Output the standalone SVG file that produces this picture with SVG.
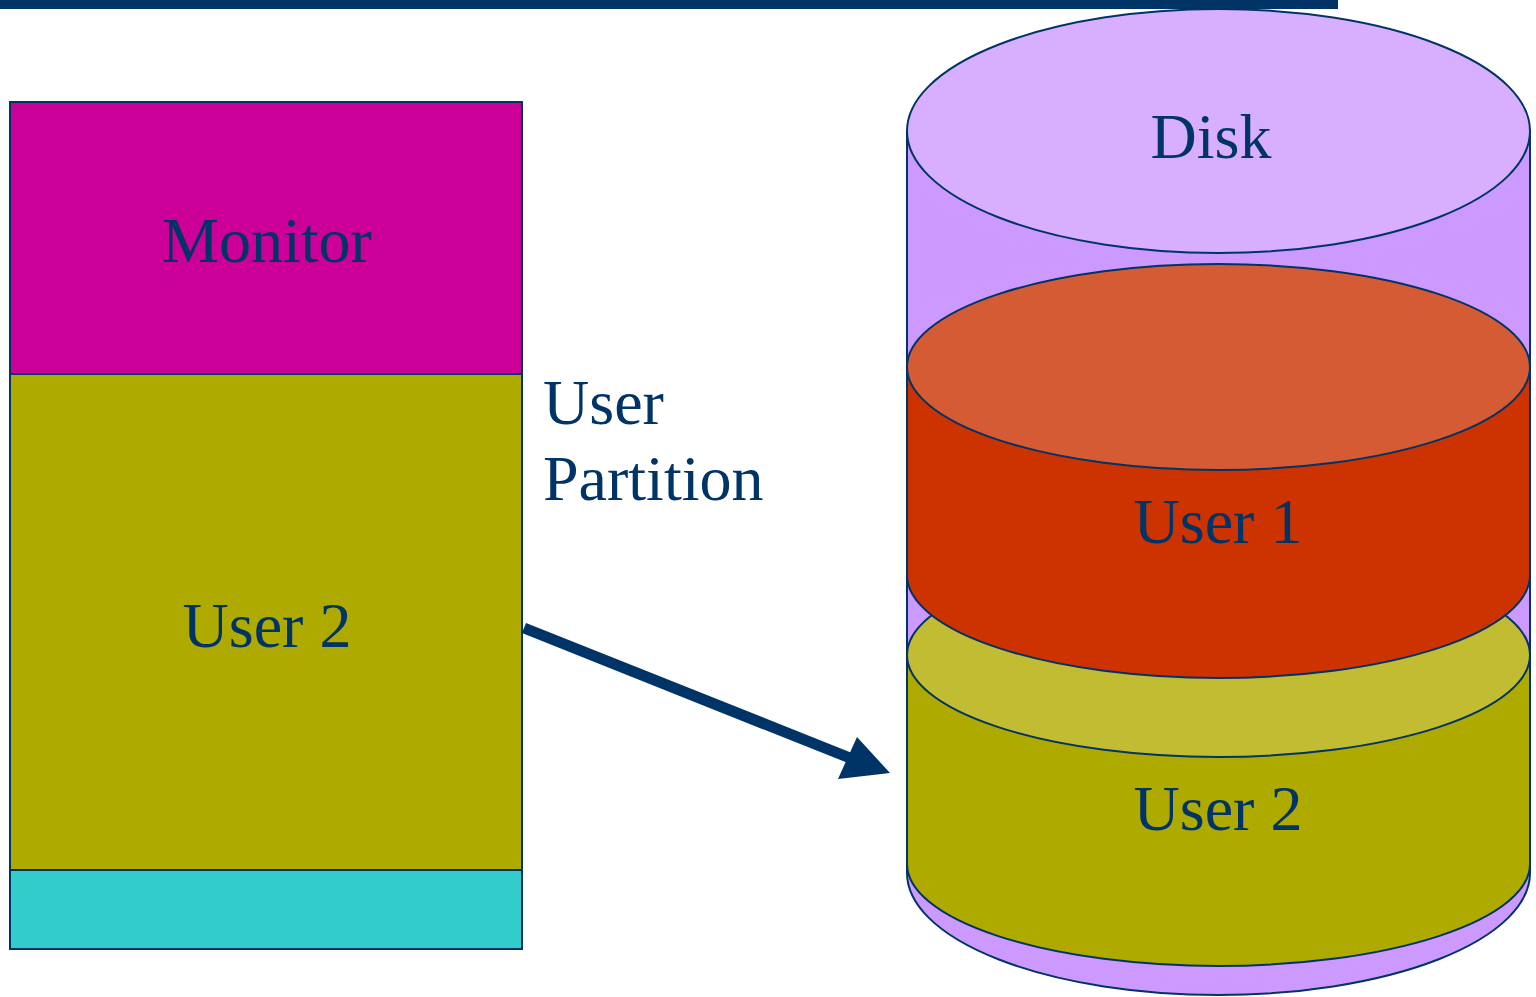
<svg xmlns="http://www.w3.org/2000/svg" width="1536" height="997" viewBox="0 0 1536 997">
<style>
.s{stroke:#003366;stroke-width:2}
.t{font-family:"Liberation Serif","Times New Roman",serif;font-size:64px;fill:#003366}
</style>
<rect width="1536" height="997" fill="#fff"/>
<rect x="0" y="0" width="1338" height="9" fill="#003366"/>
<g id="memory">
<rect class="s" x="10" y="102" width="512" height="272" fill="#CC0099"/>
<rect class="s" x="10" y="374" width="512" height="496" fill="#AFAA00"/>
<rect class="s" x="10" y="870" width="512" height="79" fill="#33CCCC"/>
<text class="t" x="267" y="262" text-anchor="middle">Monitor</text>
<text class="t" x="267" y="647" text-anchor="middle">User 2</text>
</g>
<g id="label">
<text class="t" x="543" y="424">User</text>
<text class="t" x="543" y="500">Partition</text>
</g>
<g id="disk">
<path class="s" d="M907,131 V873 A311.5,122 0 0 0 1530,873 V131 Z" fill="#CC99FF"/>
<ellipse class="s" cx="1218.5" cy="131" rx="311.5" ry="122" fill="#D8AFFF"/>
<text class="t" x="1211" y="158" text-anchor="middle">Disk</text>
</g>
<g id="user2disk">
<path class="s" d="M907,655 V864 A311.5,102 0 0 0 1530,864 V655 Z" fill="#AFAA00"/>
<ellipse class="s" cx="1218.5" cy="655" rx="311.5" ry="102" fill="#C2BC33"/>
<text class="t" x="1218" y="830" text-anchor="middle">User 2</text>
</g>
<g id="user1disk">
<path class="s" d="M907,367 V575 A311.5,103 0 0 0 1530,575 V367 Z" fill="#CC3300"/>
<ellipse class="s" cx="1218.5" cy="367" rx="311.5" ry="103" fill="#D45B33"/>
<text class="t" x="1218" y="543" text-anchor="middle">User 1</text>
</g>
<g id="connectors">
<line x1="524" y1="628" x2="850" y2="758" stroke="#003366" stroke-width="11"/>
<polygon points="890,773 838,779 857,737" fill="#003366"/>
</g>
</svg>
